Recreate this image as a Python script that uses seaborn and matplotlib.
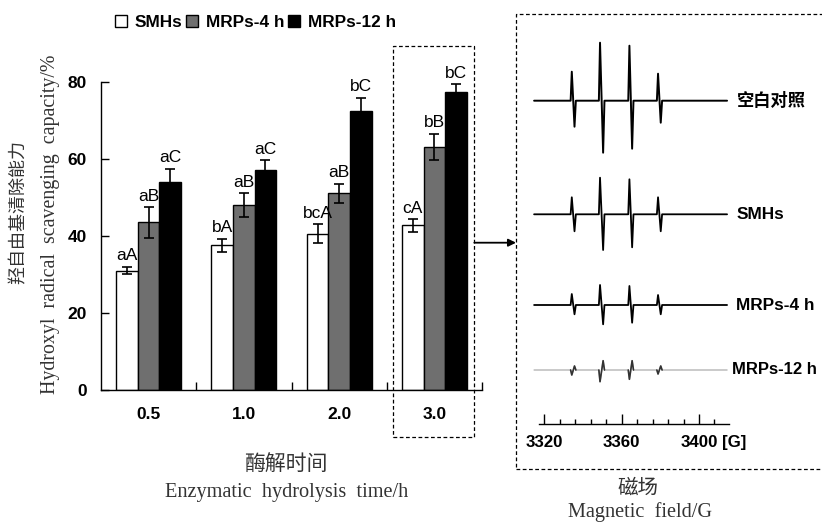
import numpy as np
import pandas as pd
import matplotlib
matplotlib.use("Agg")
import matplotlib.pyplot as plt
import seaborn as sns
from matplotlib.patches import Rectangle, Patch, FancyArrowPatch

# ---------------- data ----------------
times = ["0.5", "1.0", "2.0", "3.0"]
groups = ["SMHs", "MRPs-4 h", "MRPs-12 h"]
smhs_mean = [31.0, 37.5, 40.6, 42.7]
smhs_err = [1.0, 1.8, 2.5, 1.6]
mrp4_mean = [43.5, 47.9, 51.0, 63.1]
mrp4_err = [4.0, 3.1, 2.5, 3.4]
mrp12_mean = [54.1, 57.1, 72.5, 77.2]
mrp12_err = [3.3, 2.5, 3.4, 2.1]
smhs_letters = ["aA", "bA", "bcA", "cA"]
mrp4_letters = ["aB", "aB", "aB", "bB"]
mrp12_letters = ["aC", "aC", "bC", "bC"]
yticks = [0, 20, 40, 60, 80]

# EPR spectra (field in G, intensity in arbitrary units)
field_G = [3314.7, 3333.6, 3334.2, 3335.6, 3336.3,
           3348.2, 3348.8, 3350.4, 3351.1,
           3363.4, 3364.0, 3365.4, 3366.1,
           3378.2, 3378.8, 3380.2, 3380.9, 3414.5]
blank_sig = [0, 0, 29, -26, 0, 0, 58, -52, 0, 0, 55, -48, 0, 0, 27, -22, 0, 0]
smhs_sig = [0, 0, 17, -17, 0, 0, 36.6, -35.7, 0, 0, 35, -33, 0, 0, 17, -17, 0, 0]
mrp4_sig = [0, 0, 11, -9.3, 0, 0, 20, -19.3, 0, 0, 19, -17.7, 0, 0, 10, -9.3, 0, 0]
mrp12_sig = [0, 0, -5, 4, 0, 0, -11.7, 9.3, 0, 0, -9.3, 9.3, 0, 0, -4, 4, 0, 0]
spec_labels = ["空白对照", "SMHs", "MRPs-4 h", "MRPs-12 h"]
field_ticks = [3320, 3360, 3400]
field_minor = [3328, 3336, 3344, 3352, 3368, 3376, 3384, 3392, 3408]

# ---------------- style ----------------
sns.set_theme(style="white", rc={"axes.edgecolor": "black", "xtick.color": "black",
                                  "ytick.color": "black", "text.color": "black"})
plt.rcParams["font.family"] = ["Liberation Sans", "Noto Sans CJK SC"]

W, H = 822, 523
fig = plt.figure(figsize=(W / 100, H / 100), dpi=100)
fig.patch.set_facecolor("white")


def fx(px):
    return px / W


def fy(py):
    return 1 - py / H


# ---------------- bar chart ----------------
ax = fig.add_axes([fx(101), fy(390), (482 - 101) / W, (390 - 81.7) / H])
df = pd.DataFrame({
    "time": times * 3,
    "group": np.repeat(groups, len(times)),
    "value": smhs_mean + mrp4_mean + mrp12_mean,
})
colors = ["white", "#6f6f6f", "black"]
sns.barplot(data=df, x="time", y="value", hue="group", order=times, hue_order=groups,
            palette=colors, saturation=1, edgecolor="black", linewidth=1.0,
            width=0.68, errorbar=None, legend=False, ax=ax)

means = [smhs_mean, mrp4_mean, mrp12_mean]
errs = [smhs_err, mrp4_err, mrp12_err]
letters = [smhs_letters, mrp4_letters, mrp12_letters]
for cont, m, e, labs in zip(ax.containers, means, errs, letters):
    xs = [p.get_x() + p.get_width() / 2 for p in cont.patches]
    ax.errorbar(xs, m, yerr=e, fmt="none", ecolor="black", elinewidth=1.2,
                capsize=3.6, capthick=1.2, zorder=3)
    for x, y, er, t in zip(xs, m, e, labs):
        ax.annotate(t, (x, y + er), xytext=(0, 4.6), textcoords="offset points",
                    ha="center", va="baseline", fontsize=12.5, annotation_clip=False)

ax.set_xlim(-0.5, 3.5)
ax.set_ylim(0, 80)
ax.set_yticks(yticks)
ax.set_yticklabels([str(v) for v in yticks], fontweight="bold", fontsize=12.5)
ax.tick_params(axis="y", direction="in", length=6, width=1, pad=10, left=True)
ax.set_xticks(range(len(times)))
ax.set_xticklabels(times, fontweight="bold", fontsize=12.5)
ax.tick_params(axis="x", which="major", length=0, pad=12)
ax.set_xticks([0.5, 1.5, 2.5, 3.5], minor=True)
ax.tick_params(axis="x", which="minor", direction="in", length=6, width=1, bottom=True)
for s in ["top", "right"]:
    ax.spines[s].set_visible(False)
for s in ["left", "bottom"]:
    ax.spines[s].set_linewidth(1.0)
    ax.spines[s].set_color("black")
ax.set_xlabel("")
ax.set_ylabel("")
ax.set_facecolor("none")

# legend
handles = [Patch(facecolor=c, edgecolor="black", linewidth=1.0) for c in colors]
fig.legend(handles, groups, loc="center", bbox_to_anchor=(fx(255.5), fy(22.5)), ncol=3,
           frameon=False, prop={"weight": "bold", "size": 12.4}, handlelength=0.7,
           handleheight=0.7, handletextpad=0.45, columnspacing=0.2, borderpad=0,
           borderaxespad=0)

# axis titles
lab_col = "#333333"
fig.text(fx(18.3), fy(211.5), "羟自由基清除能力", rotation=90, ha="center", va="center",
         fontsize=13, family=["Noto Sans CJK SC"], color=lab_col)
fig.text(fx(50), fy(224), "Hydroxyl  radical  scavenging  capacity/%", rotation=90,
         ha="center", va="center", fontsize=14.3, family=["Liberation Serif"], color=lab_col)
fig.text(fx(286), fy(464), "酶解时间", ha="center", va="center", fontsize=15,
         family=["Noto Sans CJK SC"], color=lab_col)
fig.text(fx(287), fy(493), "Enzymatic  hydrolysis  time/h", ha="center", va="center",
         fontsize=14.6, family=["Liberation Serif"], color=lab_col)
fig.text(fx(638), fy(488), "磁场", ha="center", va="center", fontsize=14.8,
         family=["Noto Sans CJK SC"], color=lab_col)
fig.text(fx(640), fy(512), "Magnetic  field/G", ha="center", va="center", fontsize=14.6,
         family=["Liberation Serif"], color=lab_col)

# dashed boxes and arrow
dash = (0, (3, 2))
fig.add_artist(Rectangle((fx(392.7), fy(436.7)), (474.3 - 392.7) / W, (436.7 - 46) / H,
                         transform=fig.transFigure, fill=False, ls=dash, lw=0.9, ec="black"))
fig.add_artist(Rectangle((fx(516), fy(469.3)), (840 - 516) / W, (469.3 - 14) / H,
                         transform=fig.transFigure, fill=False, ls=dash, lw=0.9, ec="black",
                         clip_on=False))
fig.add_artist(FancyArrowPatch((fx(474.3), fy(242.7)), (fx(516), fy(242.7)),
                               transform=fig.transFigure, arrowstyle="-|>",
                               mutation_scale=11, lw=1.3, color="black",
                               shrinkA=0, shrinkB=0))

# ---------------- EPR spectra ----------------
ax2 = fig.add_axes([fx(525), fy(424.3), 212.7 / W, 410 / H])
ax2.set_xlim(3310, 3420)
ax2.set_ylim(0, 410)
ax2.set_facecolor("none")
offsets = [323.6, 210, 119.3, 54.3]
sigs = [blank_sig, smhs_sig, mrp4_sig, mrp12_sig]
label_px = [(737, 100.7, 12.4), (737, 214.3, 12.4), (736, 305, 12.4), (732, 370, 12.0)]
for i, (sig, off) in enumerate(zip(sigs, offsets)):
    yv = np.array(sig, dtype=float) + off
    if i < 3:
        sns.lineplot(x=field_G, y=yv, ax=ax2, color="black", lw=1.4 if i == 0 else 1.3,
                     sort=False)
    else:
        sns.lineplot(x=field_G, y=yv, ax=ax2, color="#b5b5b5", lw=1.0, sort=False)
        for k in range(4):
            seg = slice(1 + 4 * k, 5 + 4 * k)
            ax2.plot(np.array(field_G)[seg], yv[seg], color="#333333", lw=1.2)
for lab, (px, py, fs) in zip(spec_labels, label_px):
    fig.text(fx(px), fy(py), lab, ha="left", va="center", fontsize=fs, fontweight="bold")

for s in ["top", "right", "left"]:
    ax2.spines[s].set_visible(False)
ax2.spines["bottom"].set_bounds(3317.3, 3415.7)
ax2.spines["bottom"].set_linewidth(1.0)
ax2.set_yticks([])
ax2.set_xticks(field_ticks)
ax2.set_xticklabels([str(v) for v in field_ticks], fontweight="bold", fontsize=12.2)
ax2.set_xticks(field_minor, minor=True)
ax2.tick_params(axis="x", which="major", direction="in", length=7, width=1, pad=8, bottom=True)
ax2.tick_params(axis="x", which="minor", direction="in", length=3.5, width=1, bottom=True)
ax2.set_xlabel("")
ax2.set_ylabel("")
fig.text(fx(722), fy(443), "[G]", ha="left", va="center", fontsize=12.2, fontweight="bold")

fig.savefig("out.png", dpi=100, facecolor="white")
